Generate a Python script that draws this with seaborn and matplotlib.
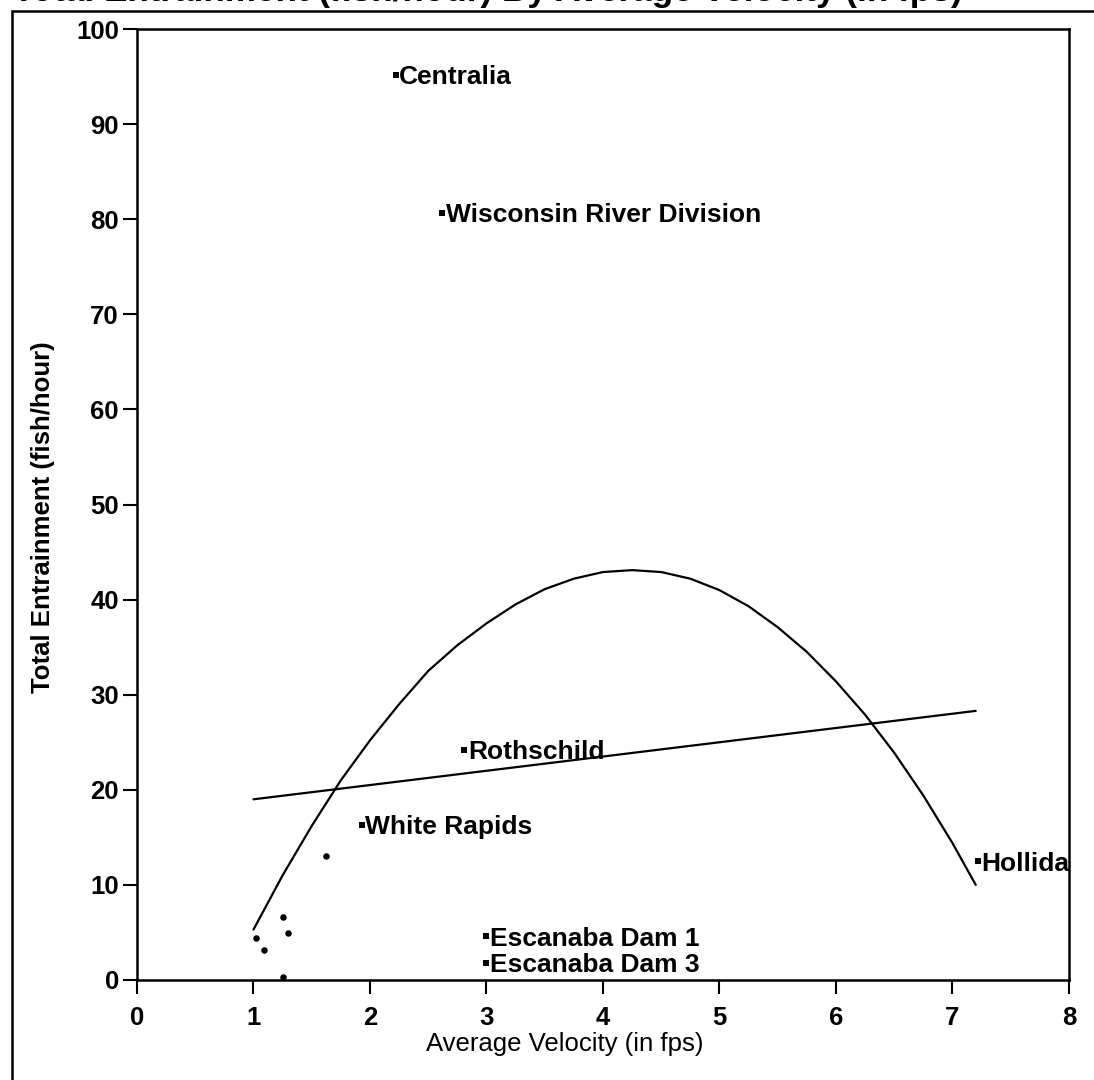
import seaborn as sns
import matplotlib.pyplot as plt
from matplotlib.patches import Rectangle

# Sites with a name next to the point
site_names = ['Centralia', 'Wisconsin River Division', 'Rothschild', 'White Rapids',
              'Hollida', 'Escanaba Dam 1', 'Escanaba Dam 3']
site_velocity = [2.22, 2.62, 2.81, 1.93, 7.22, 3.0, 3.0]
site_entrain = [95.2, 80.7, 24.2, 16.3, 12.5, 4.6, 1.8]

# Unlabelled points near the origin
other_velocity = [1.02, 1.09, 1.25, 1.30, 1.25, 1.62]
other_entrain = [4.4, 3.2, 6.6, 4.9, 0.3, 13.0]

# Straight-line fit
lin_x = [1.0, 7.2]
lin_y = [19.0, 28.3]

# Curved fit
curve_x = [1.0, 1.25, 1.5, 1.75, 2.0, 2.25, 2.5, 2.75, 3.0, 3.25, 3.5, 3.75, 4.0, 4.25,
           4.5, 4.75, 5.0, 5.25, 5.5, 5.75, 6.0, 6.25, 6.5, 6.75, 7.0, 7.2]
curve_y = [5.3, 11.0, 16.2, 21.0, 25.2, 29.0, 32.5, 35.2, 37.5, 39.5, 41.1, 42.2, 42.9, 43.1,
           42.9, 42.2, 41.0, 39.3, 37.1, 34.5, 31.4, 27.9, 23.9, 19.4, 14.4, 10.0]

x_ticks = [0, 1, 2, 3, 4, 5, 6, 7, 8]
y_ticks = [0, 10, 20, 30, 40, 50, 60, 70, 80, 90, 100]

sns.set_style('ticks')
plt.rcParams['font.family'] = ['Liberation Sans', 'DejaVu Sans']
plt.rcParams['font.weight'] = 'bold'
plt.rcParams['text.color'] = 'black'
plt.rcParams['axes.labelcolor'] = 'black'
plt.rcParams['xtick.color'] = 'black'
plt.rcParams['ytick.color'] = 'black'

fig = plt.figure(figsize=(10.94, 10.8), dpi=100)
ax = fig.add_axes([0.1252, 0.0926, 0.8519, 0.8805])

sns.lineplot(x=curve_x, y=curve_y, ax=ax, color='black', lw=1.6, sort=False, estimator=None)
sns.lineplot(x=lin_x, y=lin_y, ax=ax, color='black', lw=1.6, sort=False, estimator=None)
sns.scatterplot(x=site_velocity, y=site_entrain, ax=ax, color='black', marker='s',
                s=16, linewidth=0)
sns.scatterplot(x=other_velocity, y=other_entrain, ax=ax, color='black', marker='o',
                s=22, linewidth=0)

for name, vx, vy in zip(site_names, site_velocity, site_entrain):
    ax.annotate(name, (vx, vy), xytext=(2.5, 0), textcoords='offset points',
                ha='left', va='center_baseline', fontsize=19, fontweight='bold',
                annotation_clip=False)

ax.set_xlim(0, 8)
ax.set_ylim(0, 100)
ax.set_xticks(x_ticks)
ax.set_yticks(y_ticks)
ax.tick_params(axis='x', direction='out', length=10, width=1.5, pad=9, labelsize=18.5)
ax.tick_params(axis='y', direction='out', length=10, width=1.5, pad=3, labelsize=18.5)
for sp in ax.spines.values():
    sp.set_linewidth(1.8)
    sp.set_color('black')

ax.set_xlabel('Average Velocity (in fps)', fontsize=18.5, fontweight='normal')
ax.xaxis.set_label_coords(0.459, -0.055)
ax.set_ylabel('Total Entrainment (fish/hour)', fontsize=18.5, fontweight='bold')
ax.yaxis.set_label_coords(-0.088, 0.487)

# Outer page frame and cut-off title
fig.patches.append(Rectangle((12 / 1094, -0.1), 1.2, 1.1 - 11 / 1080, transform=fig.transFigure,
                             fill=False, lw=1.8, edgecolor='black', clip_on=False))
fig.text(13 / 1094, 1 - 1.5 / 1080, 'Total Entrainment (fish/hour) By Average Velocity (in fps)',
         ha='left', va='baseline', fontsize=25.3, fontweight='bold')

fig.savefig('out.png', dpi=100, facecolor='white')
